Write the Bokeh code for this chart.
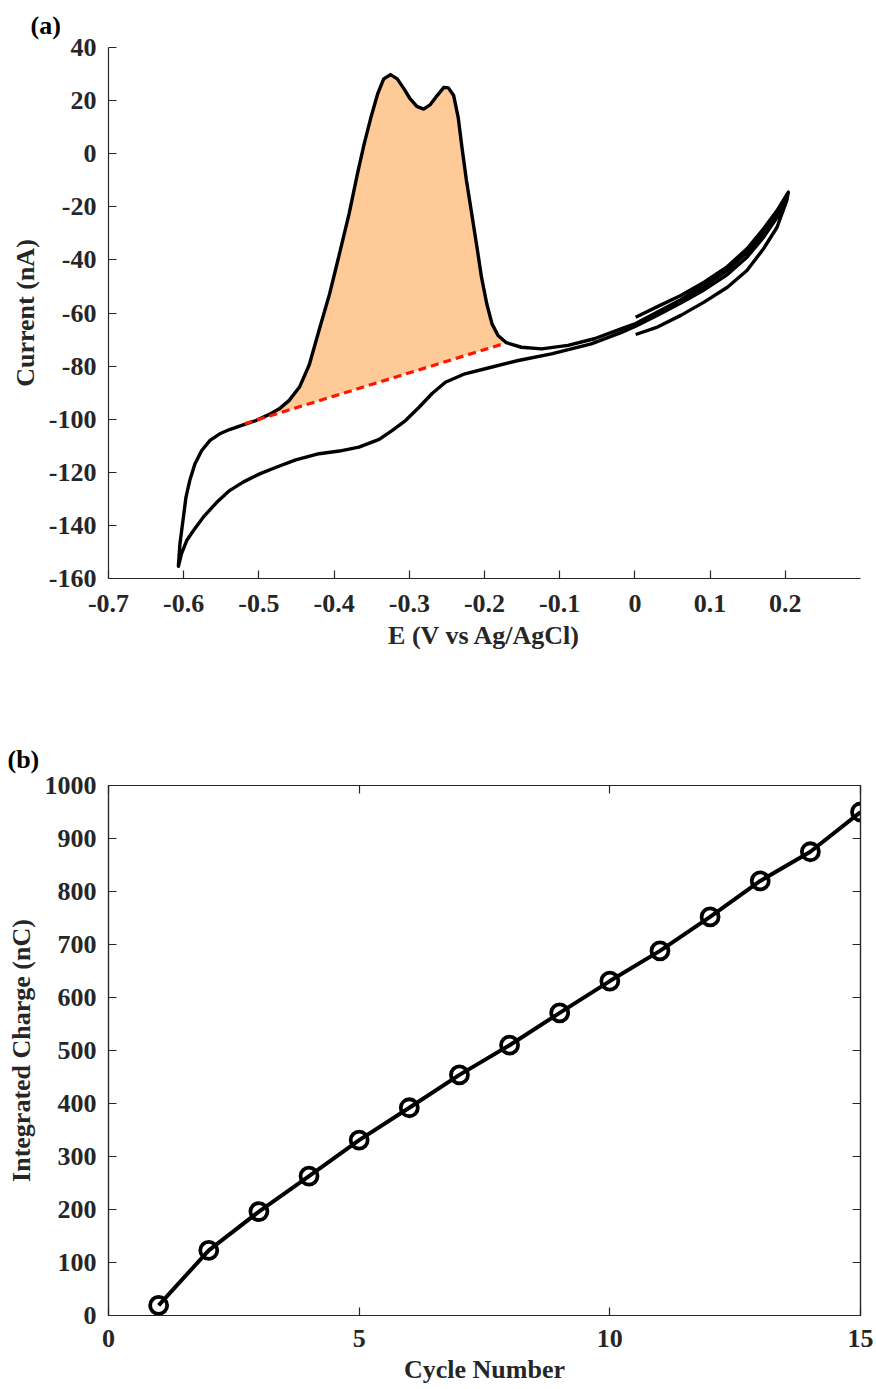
from bokeh.plotting import figure
from bokeh.layouts import column
from bokeh.models import FixedTicker, LinearAxis, Range1d
from bokeh.embed import file_html
from bokeh.resources import INLINE

# ---------------- data: panel (a) cyclic voltammogram ----------------
# scan 1: initial anodic sweep 0 -> 0.2 V
scan1_E = [0.001, 0.030, 0.061, 0.092, 0.123, 0.149, 0.171, 0.189, 0.204]
scan1_I = [-61.6, -57.6, -53.4, -48.4, -42.5, -35.8, -28.3, -21.4, -14.5]
# scan 2: cathodic sweep 0.2 -> -0.61 V
scan2_E = [0.202, 0.189, 0.171, 0.149, 0.123, 0.092, 0.061, 0.030, 0.001,
           -0.0185, -0.058, -0.111, -0.155, -0.199, -0.226, -0.252, -0.270,
           -0.287, -0.305, -0.323, -0.340, -0.367, -0.393, -0.420, -0.451,
           -0.477, -0.499, -0.521, -0.539, -0.556, -0.574, -0.587, -0.596,
           -0.603, -0.607]
scan2_I = [-17.0, -24.0, -31.5, -39.0, -45.5, -51.3, -56.2, -60.8, -65.0,
           -67.4, -71.6, -75.4, -77.9, -81.0, -82.9, -86.1, -90.4,
           -95.5, -100.5, -104.3, -107.6, -110.5, -112.0, -113.0, -115.3,
           -118.1, -120.6, -123.7, -126.9, -131.3, -136.9, -141.9, -145.7,
           -150.7, -155.4]
# scan 3: anodic sweep with stripping peaks -0.61 -> 0.2 V
scan3_E = [-0.607, -0.605, -0.601, -0.597, -0.592, -0.585, -0.576, -0.565,
           -0.552, -0.539, -0.521, -0.504, -0.486, -0.473, -0.460, -0.446,
           -0.433, -0.420, -0.406, -0.394, -0.380, -0.369, -0.360, -0.351,
           -0.342, -0.334, -0.325, -0.316, -0.307, -0.299, -0.290, -0.281,
           -0.272, -0.263, -0.254, -0.248, -0.241, -0.235, -0.230, -0.224,
           -0.217, -0.210, -0.204, -0.197, -0.190, -0.182, -0.171, -0.151,
           -0.124, -0.089, -0.054, -0.0185, 0.001, 0.030, 0.061, 0.092,
           0.123, 0.149, 0.171, 0.189, 0.204]
scan3_I = [-155.1, -146.9, -138.2, -129.4, -123.1, -116.8, -111.8, -108.0,
           -105.5, -103.9, -102.1, -100.5, -98.2, -96.1, -93.0, -87.9,
           -79.5, -66.5, -52.8, -39.0, -22.6, -7.6, 3.7, 13.7,
           22.6, 28.2, 29.8, 28.2, 24.4, 20.7, 17.8, 16.8,
           18.5, 21.9, 25.0, 24.8, 21.9, 13.7, 2.4, -10.1,
           -22.6, -35.2, -46.5, -56.5, -64.1, -68.5, -71.2, -72.9,
           -73.5, -72.2, -69.7, -66.0, -64.0, -59.6, -55.0, -49.8,
           -43.8, -37.2, -29.6, -22.5, -14.5]
# scan 4: final return 0.2 -> 0 V
scan4_E = [0.202, 0.189, 0.171, 0.149, 0.123, 0.092, 0.061, 0.030, 0.001]
scan4_I = [-17.6, -27.7, -35.8, -44.0, -50.3, -55.9, -60.9, -65.3, -68.1]
# integration baseline
base_E = [-0.519, -0.175]
base_I = [-101.7, -71.6]

a_xticks = [-0.7, -0.6, -0.5, -0.4, -0.3, -0.2, -0.1, 0, 0.1, 0.2]
a_yticks = [-160, -140, -120, -100, -80, -60, -40, -20, 0, 20, 40]

# ---------------- data: panel (b) integrated charge ----------------
cycles = [1, 2, 3, 4, 5, 6, 7, 8, 9, 10, 11, 12, 13, 14, 15]
charge = [19, 123, 196, 263, 331, 392, 454, 510, 571, 631, 688, 752, 820, 875, 950]
b_xticks = [0, 5, 10, 15]
b_yticks = [0, 100, 200, 300, 400, 500, 600, 700, 800, 900, 1000]

FONT = "Liberation Serif"
TXT = "#262626"
FS = "26px"


def plain(ticks):
    return {t: ("%g" % t) for t in ticks}


def style_axis(ax, standoff=10, label_standoff=6):
    ax.axis_line_color = TXT
    ax.axis_line_width = 1.2
    ax.major_tick_line_color = TXT
    ax.major_tick_line_width = 1.2
    ax.major_tick_in = 8
    ax.major_tick_out = 0
    ax.minor_tick_line_color = None
    ax.major_label_text_font = FONT
    ax.major_label_text_font_style = "bold"
    ax.major_label_text_font_size = FS
    ax.major_label_text_color = TXT
    ax.major_label_standoff = standoff
    ax.axis_label_text_font = FONT
    ax.axis_label_text_font_style = "bold"
    ax.axis_label_text_font_size = FS
    ax.axis_label_text_color = TXT
    ax.axis_label_standoff = label_standoff


def mirror_axis(ticks):
    ax = LinearAxis(ticker=FixedTicker(ticks=ticks))
    style_axis(ax, 0)
    ax.major_label_text_font_size = "0px"
    ax.major_label_text_color = None
    ax.major_label_standoff = 0
    return ax


def style_title(t, text, offset, standoff):
    t.text = text
    t.align = "left"
    t.offset = offset
    t.text_font = FONT
    t.text_font_style = "bold"
    t.text_font_size = FS
    t.text_color = "black"
    t.standoff = standoff


# ---------------- panel (a) ----------------
pa = figure(width=876, height=700, output_backend="svg", toolbar_location=None,
            x_range=Range1d(-0.7, 0.3), y_range=Range1d(-160, 40),
            min_border_left=108, min_border_right=14, min_border_top=47,
            min_border_bottom=122)
style_title(pa.title, "(a)", -78, 16)
pa.outline_line_color = None
pa.xgrid.grid_line_color = None
pa.ygrid.grid_line_color = None
pa.xaxis.ticker = FixedTicker(ticks=a_xticks)
pa.yaxis.ticker = FixedTicker(ticks=a_yticks)
pa.xaxis.major_label_overrides = plain(a_xticks)
pa.yaxis.major_label_overrides = plain(a_yticks)
pa.xaxis.axis_label = "E (V vs Ag/AgCl)"
pa.yaxis.axis_label = "Current (nA)"
style_axis(pa.xaxis[0], 16, 6)
style_axis(pa.yaxis[0], 12, 6)

# shaded integration region: baseline left end, upper branch, baseline right end
fill_E = [base_E[0]] + [e for e in scan3_E if base_E[0] < e < base_E[1]] + [base_E[1]]
fill_I = [base_I[0]] + [i for e, i in zip(scan3_E, scan3_I) if base_E[0] < e < base_E[1]] + [base_I[1]]
pa.patch(fill_E, fill_I, fill_color="#FDCA98", line_color=None)

path_E = scan1_E + scan2_E + scan3_E + scan4_E
path_I = scan1_I + scan2_I + scan3_I + scan4_I
pa.line(path_E, path_I, line_color="black", line_width=3.4, line_join="round")
pa.line(base_E, base_I, line_color="#FF1500", line_width=3.2, line_dash="8 5")

# ---------------- panel (b) ----------------
pb = figure(width=876, height=689, output_backend="svg", toolbar_location=None,
            x_range=Range1d(0, 15), y_range=Range1d(0, 1000),
            min_border_left=106, min_border_right=16, min_border_top=85,
            min_border_bottom=74)
style_title(pb.title, "(b)", -101, 23)
pb.outline_line_color = TXT
pb.outline_line_width = 1.2
pb.xgrid.grid_line_color = None
pb.ygrid.grid_line_color = None
pb.xaxis.ticker = FixedTicker(ticks=b_xticks)
pb.yaxis.ticker = FixedTicker(ticks=b_yticks)
pb.xaxis.axis_label = "Cycle Number"
pb.yaxis.axis_label = "Integrated Charge (nC)"
style_axis(pb.xaxis[0], 14, 5)
style_axis(pb.yaxis[0], 12, 6)

pb.add_layout(mirror_axis(b_xticks), "above")
pb.add_layout(mirror_axis(b_yticks), "right")

pb.line(cycles, charge, line_color="black", line_width=4)
pb.scatter(cycles, charge, marker="circle", size=17, line_color="black",
           line_width=3.8, fill_color=None)

layout = column(pa, pb, spacing=0)
open("out.html", "w").write(file_html(layout, INLINE))
